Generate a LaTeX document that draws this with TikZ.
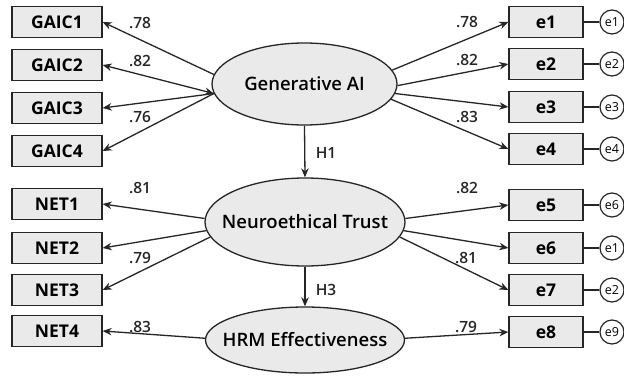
\documentclass[tikz,border=0pt]{standalone}
\usepackage{fontspec}
\setmainfont{Open Sans}
\newfontfamily\medfont{Open Sans Semibold}
\usetikzlibrary{arrows.meta,shapes.geometric}
\definecolor{boxfill}{HTML}{EAEAEA}
\definecolor{ink}{HTML}{262626}
\tikzset{
  ind/.style={draw=ink, line width=1.3pt, fill=boxfill, minimum width=#1, minimum height=31pt, inner sep=0pt, font=\fontsize{17.5}{19}\selectfont\bfseries},
  lat/.style={draw=ink, line width=1.3pt, fill=boxfill, ellipse, inner sep=0pt},
  lattext/.style={inner sep=0pt, font=\medfont\fontsize{18.5}{21}\selectfont},
  err/.style={draw=ink, line width=1.2pt, fill=white, circle, minimum size=24pt, inner sep=0pt, font=\fontsize{12.5}{13}\selectfont},
  load/.style={font=\medfont\fontsize{15.5}{18}\selectfont, text=ink},
  arr/.style={draw=ink, line width=1.3pt, -{Stealth[length=9pt,width=7.5pt]}},
  darr/.style={draw=ink, line width=1.3pt, {Stealth[length=9pt,width=7.5pt]}-{Stealth[length=9pt,width=7.5pt]}},
  ln/.style={draw=ink, line width=1.3pt}
}
\begin{document}
\begin{tikzpicture}[x=1pt,y=-1pt]
\useasboundingbox[fill=white] (0,0) rectangle (624,380);
% latent variables
\node[lat, minimum width=185pt, minimum height=82pt] (gai) at (304.5,84) {};
\node[lattext] (gait) at (gai) {Generative AI};
\node[lat, minimum width=200pt, minimum height=88pt] (net) at (305,222) {};
\node[lattext] (nett) at (net) {Neuroethical Trust};
\node[lat, minimum width=199pt, minimum height=66pt] (hrm) at (305,340) {};
\node[lattext] (hrmt) at (hrm) {HRM Effectiveness};
% left indicators
\node[ind=90pt] (g1) at (57,22) {GAIC1};
\node[ind=90pt] (g2) at (57,65) {GAIC2};
\node[ind=90pt] (g3) at (57,108) {GAIC3};
\node[ind=90pt] (g4) at (57,151) {GAIC4};
\node[ind=90pt] (n1) at (57,204) {NET1};
\node[ind=90pt] (n2) at (57,248) {NET2};
\node[ind=90pt] (n3) at (57,290) {NET3};
\node[ind=90pt] (n4) at (57,331) {NET4};
% right indicators
\node[ind=74pt] (r1) at (546,22) {e1};
\node[ind=74pt] (r2) at (546,64) {e2};
\node[ind=74pt] (r3) at (546,107) {e3};
\node[ind=74pt] (r4) at (546,149) {e4};
\node[ind=74pt] (r5) at (546,205) {e5};
\node[ind=74pt] (r6) at (546,248) {e6};
\node[ind=74pt] (r7) at (546,290) {e7};
\node[ind=74pt] (r8) at (546,332) {e8};
% error circles
\node[err] (c1) at (612,22) {e1};
\node[err] (c2) at (612,64) {e2};
\node[err] (c3) at (612,107) {e3};
\node[err] (c4) at (612,149) {e4};
\node[err] (c5) at (612,205) {e6};
\node[err] (c6) at (612,248) {e1};
\node[err] (c7) at (612,290) {e2};
\node[err] (c8) at (612,332) {e9};
\foreach \i in {1,...,8} \draw[ln] (r\i.east) -- (c\i.west);
% left loadings
\draw[arr] (gai.174) -- (g1.east);
\draw[darr] (g2.east) -- (gai.186);
\draw[arr] (gai.186) -- (g3.east);
\draw[arr] (gai.186) -- (g4.east);
\draw[arr] (net.178) -- (n1.east);
\draw[arr] (net.185) -- (n2.east);
\draw[arr] (net.189) -- (n3.east);
\draw[arr] (hrm.179) -- (n4.east);
% right loadings
\draw[arr] (gai.9) -- (r1.west);
\draw[arr] (gai.-1) -- (r2.west);
\draw[arr] (gai.-6) -- (r3.west);
\draw[arr] (gai.-10) -- (r4.west);
\draw[arr] (net.2) -- (r5.west);
\draw[arr] (net.-5) -- (r6.west);
\draw[arr] (net.-9) -- (r7.west);
\draw[arr] (hrm.1) -- (r8.west);
% structural paths
\draw[arr] (gai.south) -- (net.north);
\draw[arr] (net.south) -- (hrm.north);
% labels
\node[load] (l1) at (140,23) {.78};
\node[load] (l2) at (140,61) {.82};
\node[load] (l3) at (140,117) {.76};
\node[load] (l4) at (140,188) {.81};
\node[load] (l5) at (140,258) {.79};
\node[load] (l6) at (140,327) {.83};
\node[load] (l7) at (467,22) {.78};
\node[load] (l8) at (467,60) {.82};
\node[load] (l9) at (467,117) {.83};
\node[load] (l10) at (467,188) {.82};
\node[load] (l11) at (466,258) {.81};
\node[load] (l12) at (466,327) {.79};
\node[load] (h1) at (326,153) {H1};
\node[load] (h3) at (326,290) {H3};
\end{tikzpicture}
\end{document}
